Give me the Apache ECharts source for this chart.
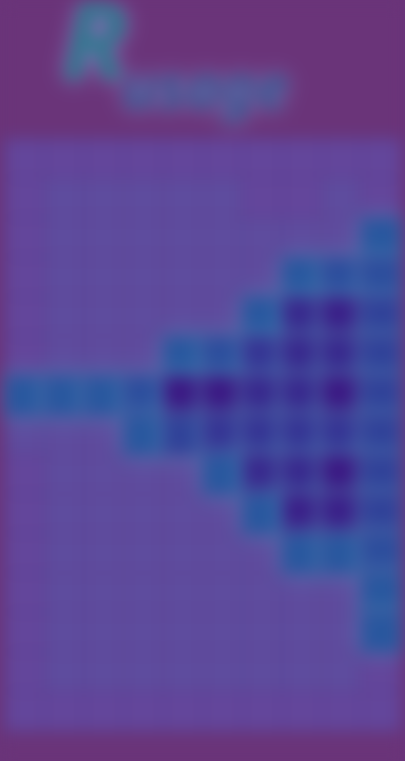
<!DOCTYPE html>
<html>
<head>
<meta charset="utf-8">
<script src="https://cdn.jsdelivr.net/npm/echarts@6/dist/echarts.min.js"></script>
<style>
  html, body { margin: 0; padding: 0; background: #6a3479; }
  #chart { width: 405px; height: 761px; filter: blur(8px); }
</style>
</head>
<body>
<div id="chart"></div>
<script>
// Title pieces
const titleMain = 'R';
const titleSub = 'usage';

// Grid categories (10 columns x 15 rows)
const columns = ['c0','c1','c2','c3','c4','c5','c6','c7','c8','c9'];
const rows = ['r0','r1','r2','r3','r4','r5','r6','r7','r8','r9','r10','r11','r12','r13','r14'];

// Cell values, one list per row (columns 0..9)
const row0  = [0,0,0,0,0,0,0,0,0,0];
const row1  = [0,1,1,1,1,1,0,0,1,0];
const row2  = [0,1,1,1,1,1,1,1,1,4];
const row3  = [0,1,1,1,1,1,1,4,5,5];
const row4  = [0,1,1,1,1,1,4,8,9,6];
const row5  = [0,1,1,1,4,5,7,8,8,6];
const row6  = [4,4,4,5,10,10,8,8,10,6];
const row7  = [1,1,1,4,6,7,7,7,7,6];
const row8  = [0,1,1,1,1,4,8,8,10,6];
const row9  = [0,1,1,1,1,1,4,9,9,6];
const row10 = [0,1,1,1,1,1,1,4,4,5];
const row11 = [0,1,1,1,1,1,1,1,1,4];
const row12 = [0,1,1,1,1,1,1,1,1,4];
const row13 = [0,1,1,1,1,1,1,1,1,0];
const row14 = [0,0,0,0,0,0,0,0,0,0];
const rowValues = [row0,row1,row2,row3,row4,row5,row6,row7,row8,row9,row10,row11,row12,row13,row14];

const lowCells = [];
const highCells = [];
rowValues.forEach((vals, r) => {
  vals.forEach((v, c) => {
    if (v >= 4) highCells.push([c, r, v]);
    else lowCells.push([c, r, v]);
  });
});

const chart = echarts.init(document.getElementById('chart'), null, { renderer: 'canvas' });
chart.setOption({
  backgroundColor: '#6a3479',
  animation: false,
  title: [
    {
      text: titleMain,
      left: 62, top: -4, padding: 0,
      textStyle: {
        fontFamily: 'Noto Sans', fontStyle: 'italic', fontWeight: 'bold', fontSize: 106,
        color: '#31768e',
        textShadowColor: '#8f96d8', textShadowBlur: 16
      }
    },
    {
      text: titleSub,
      left: 122, top: 62, padding: 0,
      textStyle: {
        fontFamily: 'Noto Sans', fontStyle: 'italic', fontWeight: 'bold', fontSize: 59,
        color: '#37528c',
        textShadowColor: '#8f96d8', textShadowBlur: 16
      }
    }
  ],
  grid: { left: 5, right: 4, top: 139, height: 592, show: true, backgroundColor: '#58398a', borderWidth: 0 },
  xAxis: { type: 'category', data: columns, show: false },
  yAxis: { type: 'category', data: rows, inverse: true, show: false },
  visualMap: {
    show: false, min: 0, max: 10, dimension: 2, seriesIndex: [0, 1],
    inRange: {
      color: ['#63469b', '#5e4c9e', '#4a549f', '#37589f', '#28569e', '#2c4c9c',
              '#304098', '#353293', '#38268c', '#3a1c87', '#3b1582']
    }
  },
  series: [
    {
      type: 'heatmap', data: lowCells, z: 2,
      itemStyle: { borderColor: '#58398a', borderWidth: 1.5 }
    },
    {
      type: 'heatmap', data: highCells, z: 3,
      itemStyle: { borderColor: '#45348c', borderWidth: 1.5, shadowColor: '#5a92bc', shadowBlur: 14 }
    }
  ]
});
</script>
</body>
</html>
